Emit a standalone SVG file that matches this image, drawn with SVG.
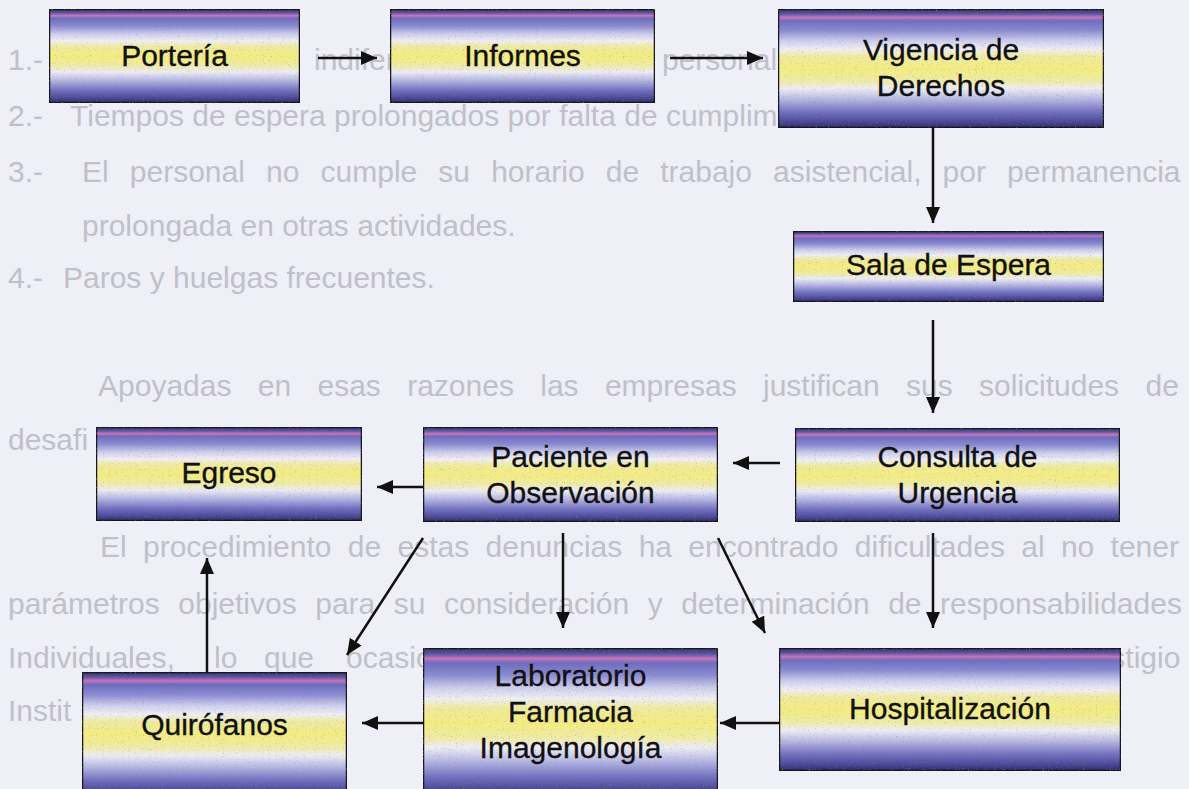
<svg xmlns="http://www.w3.org/2000/svg" width="1189" height="789" viewBox="0 0 1189 789">
  <defs>
    <linearGradient id="boxfill" x1="0" y1="0" x2="0" y2="1">
      <stop offset="0" stop-color="#34316e"/>
      <stop offset="0.04" stop-color="#5a55a0"/>
      <stop offset="0.07" stop-color="#c874bc"/>
      <stop offset="0.10" stop-color="#6e6cc0"/>
      <stop offset="0.18" stop-color="#8a8ad0"/>
      <stop offset="0.27" stop-color="#cfcfee"/>
      <stop offset="0.34" stop-color="#eeeef2"/>
      <stop offset="0.40" stop-color="#efeaa0"/>
      <stop offset="0.50" stop-color="#f3ec82"/>
      <stop offset="0.60" stop-color="#efeba4"/>
      <stop offset="0.67" stop-color="#ececf4"/>
      <stop offset="0.76" stop-color="#b6b6e2"/>
      <stop offset="0.86" stop-color="#7574c2"/>
      <stop offset="0.94" stop-color="#4f4c9c"/>
      <stop offset="1" stop-color="#2e2b66"/>
    </linearGradient>
    <filter id="grain" x="0" y="0" width="100%" height="100%">
      <feTurbulence type="fractalNoise" baseFrequency="0.85" numOctaves="1" seed="4" result="n"/>
      <feColorMatrix in="n" type="matrix" values="0 0 0 0 0.25  0 0 0 0 0.22  0 0 0 0 0.2  2.6 0 0 0 -1.6" result="g"/>
      <feComposite in="g" in2="SourceGraphic" operator="in" result="gi"/>
      <feMerge><feMergeNode in="SourceGraphic"/><feMergeNode in="gi"/></feMerge>
    </filter>
    <marker id="arrow" markerUnits="userSpaceOnUse" markerWidth="17" markerHeight="15" refX="16" refY="7" orient="auto">
      <path d="M0,0 L16,7 L0,14 z" fill="#111"/>
    </marker>
    <style>
      .bg { font-family: "Liberation Sans", Arial, sans-serif; font-size: 30px; fill: #c0c0ca; }
      .box { fill: url(#boxfill); stroke: #141414; stroke-width: 2.5; filter: url(#grain); }
      .lbl { font-family: "Liberation Sans", Arial, sans-serif; font-size: 30px; fill: #111; stroke: #111; stroke-width: 0.35; text-anchor: middle; }
      .conn { stroke: #111; stroke-width: 2.5; fill: none; marker-end: url(#arrow); }
    </style>
  </defs>

  <rect x="0" y="0" width="1189" height="789" fill="#efeff7"/>

  <g id="background-text" class="bg">
    <text x="8" y="70">1.-</text>
    <text x="314" y="70">indiferente</text>
    <text x="662" y="70">personal de la</text>
    <text x="8" y="126">2.-</text>
    <text x="70" y="126">Tiempos de espera prolongados por falta de cumplimiento</text>
    <text x="8" y="182">3.-</text>
    <text x="82" y="182" word-spacing="12.8">El personal no cumple su horario de trabajo asistencial, por permanencia</text>
    <text x="82" y="236">prolongada en otras actividades.</text>
    <text x="8" y="288">4.-</text>
    <text x="63" y="288">Paros y huelgas frecuentes.</text>
    <text x="98" y="396" word-spacing="18">Apoyadas en esas razones las empresas justifican sus solicitudes de</text>
    <text x="8" y="450">desafi</text>
    <text x="100" y="557" word-spacing="8">El procedimiento de estas denuncias ha encontrado dificultades al no tener</text>
    <text x="8" y="614" word-spacing="10.2">parámetros objetivos para su consideración y determinación de responsabilidades</text>
    <text x="8" y="668">Individuales,</text>
    <text x="214" y="668">lo</text>
    <text x="264" y="668">que</text>
    <text x="346" y="668">ocasiona</text>
    <text x="1067" y="668">prestigio</text>
    <text x="8" y="721">Instit</text>
  </g>

  <g id="connectors">
    <line class="conn" x1="318" y1="58" x2="377" y2="58"/>
    <line class="conn" x1="670" y1="58" x2="763" y2="58"/>
    <line class="conn" x1="933" y1="128" x2="933" y2="223"/>
    <line class="conn" x1="933" y1="320" x2="933" y2="413"/>
    <line class="conn" x1="780" y1="463" x2="733" y2="463"/>
    <line class="conn" x1="423" y1="487" x2="377" y2="487"/>
    <line class="conn" x1="933" y1="533" x2="933" y2="628"/>
    <line class="conn" x1="563" y1="533" x2="563" y2="628"/>
    <line class="conn" x1="718" y1="538" x2="765" y2="633"/>
    <line class="conn" x1="423" y1="538" x2="347" y2="655"/>
    <line class="conn" x1="779" y1="723" x2="720" y2="723"/>
    <line class="conn" x1="423" y1="723" x2="362" y2="723"/>
    <line class="conn" x1="207" y1="672" x2="207" y2="558"/>
  </g>

  <g id="node-porteria">
    <rect class="box" x="49" y="9" width="251" height="94"/>
    <text class="lbl" x="174.5" y="66">Portería</text>
  </g>
  <g id="node-informes">
    <rect class="box" x="390" y="9" width="265" height="94"/>
    <text class="lbl" x="522.5" y="66">Informes</text>
  </g>
  <g id="node-vigencia">
    <rect class="box" x="778" y="9" width="326" height="119"/>
    <text class="lbl" x="941" y="60">Vigencia de</text>
    <text class="lbl" x="941" y="96">Derechos</text>
  </g>
  <g id="node-sala">
    <rect class="box" x="793" y="231" width="311" height="71"/>
    <text class="lbl" x="948.5" y="275">Sala de Espera</text>
  </g>
  <g id="node-consulta">
    <rect class="box" x="795" y="428" width="325" height="94"/>
    <text class="lbl" x="957.5" y="467">Consulta de</text>
    <text class="lbl" x="957.5" y="503">Urgencia</text>
  </g>
  <g id="node-paciente">
    <rect class="box" x="423" y="427" width="295" height="95"/>
    <text class="lbl" x="570.5" y="467">Paciente en</text>
    <text class="lbl" x="570.5" y="503">Observación</text>
  </g>
  <g id="node-egreso">
    <rect class="box" x="96" y="427" width="266" height="94"/>
    <text class="lbl" x="229" y="483">Egreso</text>
  </g>
  <g id="node-quirofanos">
    <rect class="box" x="82" y="672" width="265" height="125"/>
    <text class="lbl" x="214.5" y="735">Quirófanos</text>
  </g>
  <g id="node-laboratorio">
    <rect class="box" x="423" y="648" width="295" height="149"/>
    <text class="lbl" x="570.5" y="686">Laboratorio</text>
    <text class="lbl" x="570.5" y="722">Farmacia</text>
    <text class="lbl" x="570.5" y="758">Imagenología</text>
  </g>
  <g id="node-hospitalizacion">
    <rect class="box" x="779" y="648" width="342" height="123"/>
    <text class="lbl" x="950" y="719">Hospitalización</text>
  </g>
</svg>
